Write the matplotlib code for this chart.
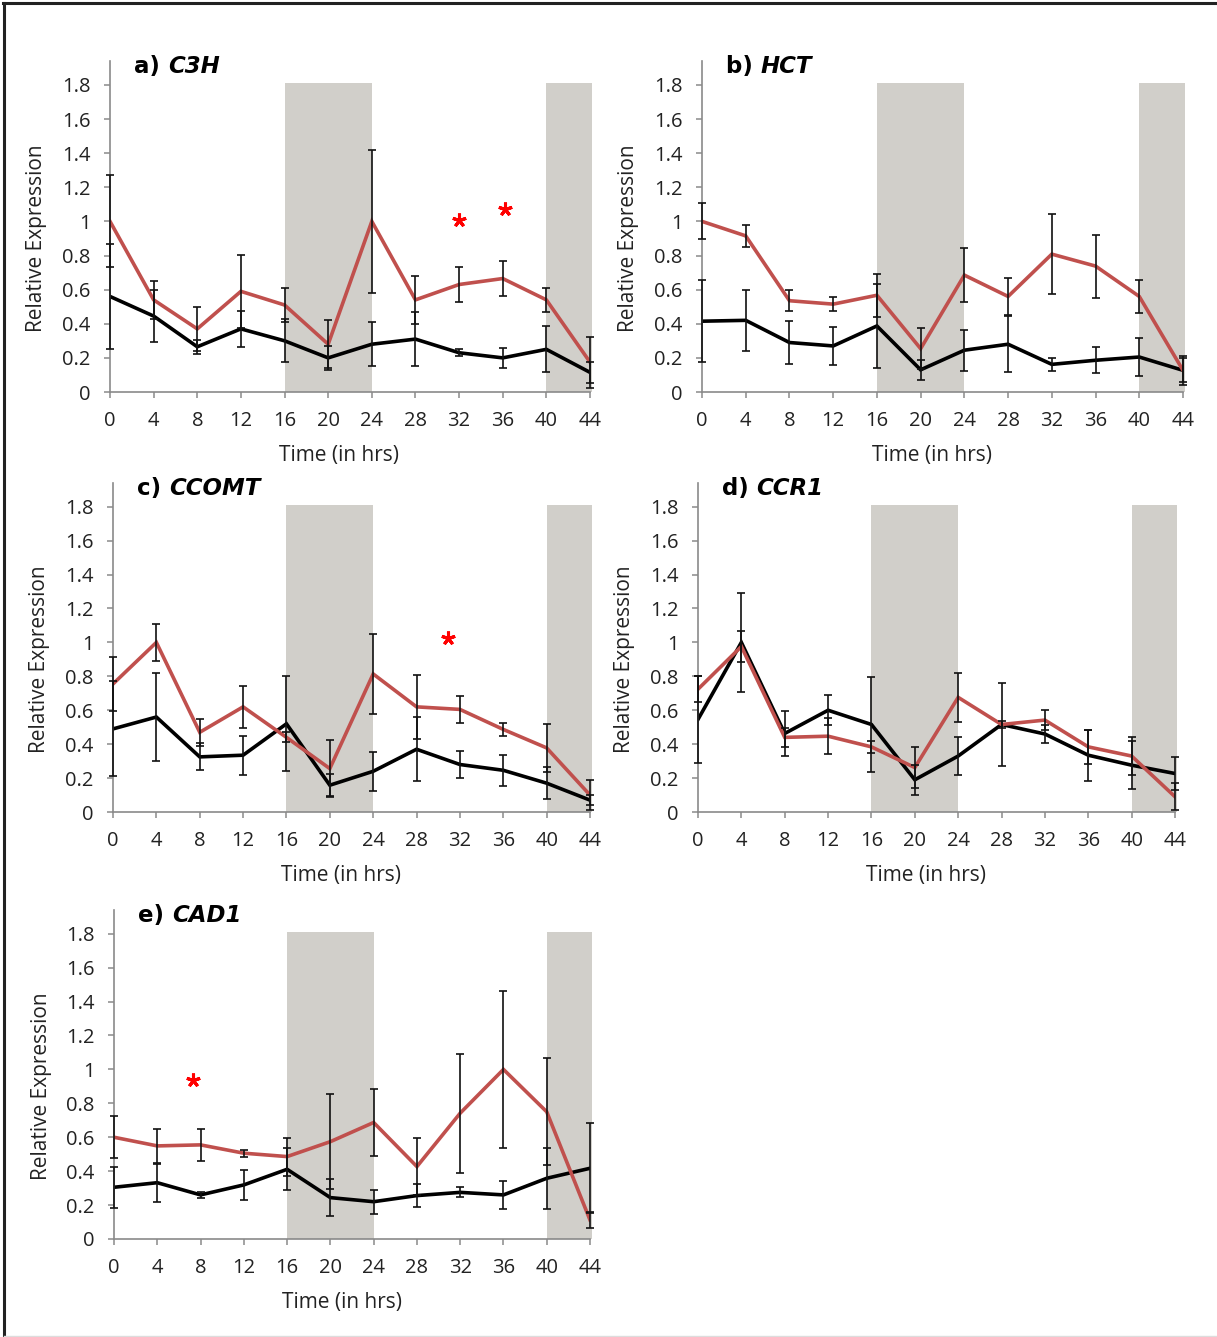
import matplotlib
matplotlib.use('agg')
import matplotlib.pyplot as plt
from matplotlib.lines import Line2D
import numpy as np

plt.rcParams['font.family'] = ['Open Sans', 'DejaVu Sans']

times = [0, 4, 8, 12, 16, 20, 24, 28, 32, 36, 40, 44]
y_ticks = [0, 0.2, 0.4, 0.6, 0.8, 1.0, 1.2, 1.4, 1.6, 1.8]
dark_periods = [(16, 24), (40, 44.15)]

# a) C3H
c3h_red = [1.0, 0.54, 0.37, 0.59, 0.51, 0.28, 1.0, 0.54, 0.63, 0.665, 0.54, 0.175]
c3h_red_err = [0.27, 0.11, 0.13, 0.215, 0.10, 0.14, 0.42, 0.14, 0.10, 0.10, 0.07, 0.15]
c3h_blk = [0.56, 0.445, 0.265, 0.37, 0.30, 0.20, 0.28, 0.31, 0.23, 0.20, 0.25, 0.115]
c3h_blk_err = [0.31, 0.15, 0.04, 0.105, 0.125, 0.07, 0.13, 0.16, 0.02, 0.06, 0.135, 0.06]
c3h_stars = [(32, 1.01), (36.2, 1.07)]

# b) HCT
hct_red = [1.0, 0.915, 0.535, 0.515, 0.567, 0.254, 0.685, 0.56, 0.808, 0.738, 0.56, 0.127]
hct_red_err = [0.105, 0.065, 0.06, 0.04, 0.125, 0.12, 0.16, 0.11, 0.235, 0.185, 0.095, 0.085]
hct_blk = [0.415, 0.42, 0.29, 0.27, 0.387, 0.13, 0.245, 0.28, 0.162, 0.186, 0.205, 0.127]
hct_blk_err = [0.24, 0.18, 0.125, 0.11, 0.245, 0.06, 0.12, 0.165, 0.04, 0.075, 0.11, 0.07]
hct_stars = []

# c) CCOMT
ccomt_red = [0.755, 1.0, 0.47, 0.62, 0.44, 0.256, 0.814, 0.62, 0.605, 0.487, 0.378, 0.10]
ccomt_red_err = [0.157, 0.11, 0.08, 0.125, 0.03, 0.17, 0.235, 0.19, 0.08, 0.04, 0.14, 0.09]
ccomt_blk = [0.49, 0.56, 0.325, 0.335, 0.52, 0.158, 0.24, 0.37, 0.28, 0.246, 0.17, 0.07]
ccomt_blk_err = [0.28, 0.26, 0.08, 0.115, 0.28, 0.065, 0.115, 0.19, 0.077, 0.093, 0.095, 0.03]
ccomt_stars = [(30.9, 1.025)]

# d) CCR1
ccr1_red = [0.724, 0.976, 0.44, 0.447, 0.384, 0.262, 0.676, 0.516, 0.542, 0.384, 0.33, 0.09]
ccr1_red_err = [0.075, 0.09, 0.055, 0.105, 0.035, 0.12, 0.146, 0.02, 0.06, 0.10, 0.11, 0.08]
ccr1_blk = [0.546, 1.0, 0.463, 0.60, 0.516, 0.19, 0.33, 0.516, 0.46, 0.335, 0.276, 0.227]
ccr1_blk_err = [0.257, 0.29, 0.135, 0.087, 0.28, 0.09, 0.11, 0.245, 0.055, 0.15, 0.14, 0.10]
ccr1_stars = []

# e) CAD1
cad1_red = [0.60, 0.549, 0.555, 0.506, 0.486, 0.574, 0.687, 0.427, 0.742, 1.0, 0.75, 0.112]
cad1_red_err = [0.125, 0.10, 0.093, 0.02, 0.112, 0.28, 0.197, 0.167, 0.35, 0.465, 0.315, 0.05]
cad1_blk = [0.305, 0.332, 0.26, 0.319, 0.411, 0.244, 0.22, 0.256, 0.275, 0.26, 0.358, 0.417]
cad1_blk_err = [0.12, 0.112, 0.02, 0.087, 0.123, 0.108, 0.07, 0.07, 0.03, 0.083, 0.18, 0.265]
cad1_stars = [(7.3, 0.94)]

W, H = 1217, 1337
fig = plt.figure(figsize=(W / 100, H / 100), dpi=100)

AXIS_GREY = '#8a8a8a'
SHADE = '#d1cfca'
RED = '#c0504d'


def px_axes(x0, x44, y0, ytop):
    return [x0 / W, (H - y0) / H, (x44 - x0) / W, (y0 - ytop) / H]


def draw_panel(rect, letter, gene, red, red_err, blk, blk_err, stars):
    ax = fig.add_axes(rect)
    ax.set_xlim(0, 44)
    ax.set_ylim(0, 1.94)
    for x0, x1 in dark_periods:
        span = ax.axvspan(x0, x1, ymin=0, ymax=1.81 / 1.94, color=SHADE, lw=0, zorder=0)
        span.set_clip_on(False)

    ax.plot(times, blk, color='black', lw=2.6, zorder=2, solid_joinstyle='miter')
    ax.plot(times, red, color=RED, lw=2.6, zorder=3, solid_joinstyle='miter')
    for vals, errs in ((blk, blk_err), (red, red_err)):
        ax.errorbar(times, vals, yerr=errs, fmt='none', ecolor='#111111',
                    elinewidth=1.2, capsize=2.9, capthick=1.2, zorder=4, clip_on=False)

    for sx, sy in stars:
        ax.plot(sx, sy, marker=(5, 2, 0), ms=10, mew=2.2, color='#ff0000', zorder=5)

    for side in ('top', 'right'):
        ax.spines[side].set_visible(False)
    for side in ('left', 'bottom'):
        ax.spines[side].set_color(AXIS_GREY)
        ax.spines[side].set_linewidth(1.2)

    ax.set_xticks(times)
    ax.set_xticklabels([str(t) for t in times])
    ax.set_yticks(y_ticks)
    ax.set_yticklabels([f'{v:g}' for v in y_ticks])
    ax.tick_params(direction='out', length=4.5, width=1.1, color=AXIS_GREY,
                   labelsize=14.5, labelcolor='#222222', pad=9.5)

    ax.set_xlabel('Time (in hrs)', fontsize=15, color='#222222')
    ax.xaxis.set_label_coords(0.478, -53 / 331)
    ax.set_ylabel('Relative Expression', fontsize=15, color='#222222')
    ax.yaxis.set_label_coords(-63 / 480, 0.9 / 1.94)

    t1 = ax.text(0.05, 0.982, f'{letter}) ', transform=ax.transAxes, fontsize=16.5,
                 fontweight='bold', family='DejaVu Sans', va='center', ha='left')
    ax.annotate(gene, xy=(1, 0.5), xycoords=t1, va='center', ha='left', fontsize=16.5,
                fontweight='bold', fontstyle='italic', family='DejaVu Sans')
    return ax


draw_panel(px_axes(110, 590, 392, 61), 'a', 'C3H',
           c3h_red, c3h_red_err, c3h_blk, c3h_blk_err, c3h_stars)
draw_panel(px_axes(702, 1183, 392, 61), 'b', 'HCT',
           hct_red, hct_red_err, hct_blk, hct_blk_err, hct_stars)
draw_panel(px_axes(113, 590, 812, 483), 'c', 'CCOMT',
           ccomt_red, ccomt_red_err, ccomt_blk, ccomt_blk_err, ccomt_stars)
draw_panel(px_axes(698, 1175, 812, 483), 'd', 'CCR1',
           ccr1_red, ccr1_red_err, ccr1_blk, ccr1_blk_err, ccr1_stars)
draw_panel(px_axes(114, 590, 1239, 910), 'e', 'CAD1',
           cad1_red, cad1_red_err, cad1_blk, cad1_blk_err, cad1_stars)

# frame around the figure
fig.add_artist(Line2D([3 / W, 1], [1 - 3 / H, 1 - 3 / H], color='#222222', lw=2.2))
fig.add_artist(Line2D([4 / W, 4 / W], [0, 1 - 3 / H], color='#222222', lw=2.2))
fig.add_artist(Line2D([4 / W, 1], [1.5 / H, 1.5 / H], color='#dddddd', lw=1))

fig.savefig('out.png', dpi=100, facecolor='white')
